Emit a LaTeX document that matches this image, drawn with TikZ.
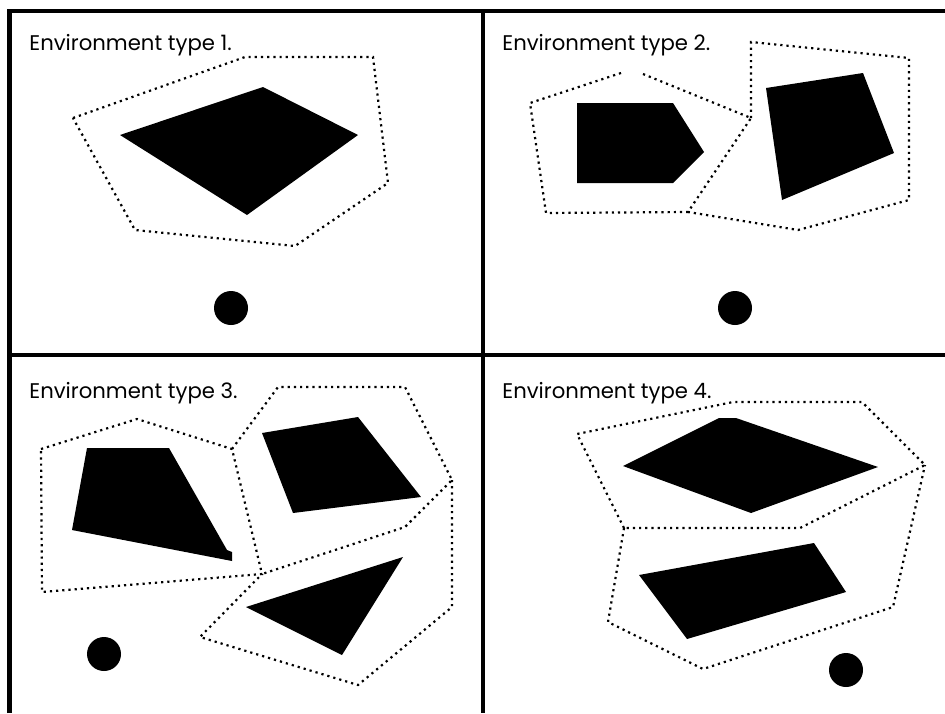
\documentclass[tikz,border=0pt]{standalone}
\usepackage{fontspec}
\setmainfont{Poppins}
\usetikzlibrary{positioning}
\tikzset{
    frame/.style={line width=2.25pt}, % Thick lines between the panels
    obstacle/.style={fill=black, draw=none},
    hull/.style={ % Dotted outline round the obstacles
        line width=1.1pt,
        dash pattern=on 1.1pt off 2pt
    },
    robot/.style={circle, fill=black, minimum size=17pt, inner sep=0pt},
    envlabel/.style={anchor=base west, inner sep=0pt, font=\fontsize{10.6}{13}\selectfont}
}

\begin{document}
\begin{tikzpicture}[x=0.5pt, y=-0.5pt]
    \useasboundingbox (0,0) rectangle (945,713);

    % frame
    \draw[frame] (9.5,713) -- (9.5,11) -- (945,11);
    \draw[frame] (9.5,355) -- (945,355);
    \draw[frame] (483,11) -- (483,713);

    % Environment type 1
    \node[envlabel] (env1) at (29,50) {Environment type 1.};
    \draw[hull] (73,118) -- (245,57) -- (373,57) -- (388,183) -- (295,246) -- (135,230) -- cycle;
    \fill[obstacle] (120,135) -- (263,87) -- (358,135) -- (247,215) -- cycle;
    \node[robot] (robot1) at (231,308) {};

    % Environment type 2
    \node[envlabel] (env2) at (502,50) {Environment type 2.};
    \draw[hull] (643,74) -- (751,118) -- (688,212) -- (546,213) -- (530,103) -- (624,72);
    \draw[hull] (751,118) -- (751,42) -- (909,58) -- (909,200) -- (798,230) -- (688,212);
    \fill[obstacle] (577,103) -- (673,103) -- (704,152) -- (673,183) -- (577,183) -- cycle;
    \fill[obstacle] (766,88) -- (863,73) -- (894,153) -- (782,200) -- cycle;
    \node[robot] (robot2) at (735,308) {};

    % Environment type 3
    \node[envlabel] (env3) at (29,398) {Environment type 3.};
    \draw[hull] (41,449) -- (137,419) -- (232,449) -- (262,574) -- (42,592) -- cycle;
    \draw[hull] (232,449) -- (278,387) -- (405,387) -- (452,480) -- (405,527) -- (262,574);
    \draw[hull] (452,480) -- (452,607) -- (358,685) -- (200,637) -- (262,574);
    \fill[obstacle] (87,448) -- (169,448) -- (227,550) -- (232,552) -- (232,561) -- (72,530) -- cycle;
    \fill[obstacle] (262,433) -- (358,417) -- (421,497) -- (293,513) -- cycle;
    \fill[obstacle] (246,607) -- (403,557) -- (342,655) -- cycle;
    \node[robot] (robot3) at (104,654) {};

    % Environment type 4
    \node[envlabel] (env4) at (502,398) {Environment type 4.};
    \draw[hull] (624,528) -- (577,434) -- (733,402) -- (862,402) -- (925,465) -- (800,528) -- cycle;
    \draw[hull] (624,528) -- (608,622) -- (703,669) -- (893,607) -- (925,465);
    \fill[obstacle] (623,466) -- (719,418) -- (736,418) -- (878,467) -- (751,513) -- cycle;
    \fill[obstacle] (639,575) -- (814,543) -- (846,592) -- (687,639) -- cycle;
    \node[robot] (robot4) at (846,670) {};
\end{tikzpicture}
\end{document}
